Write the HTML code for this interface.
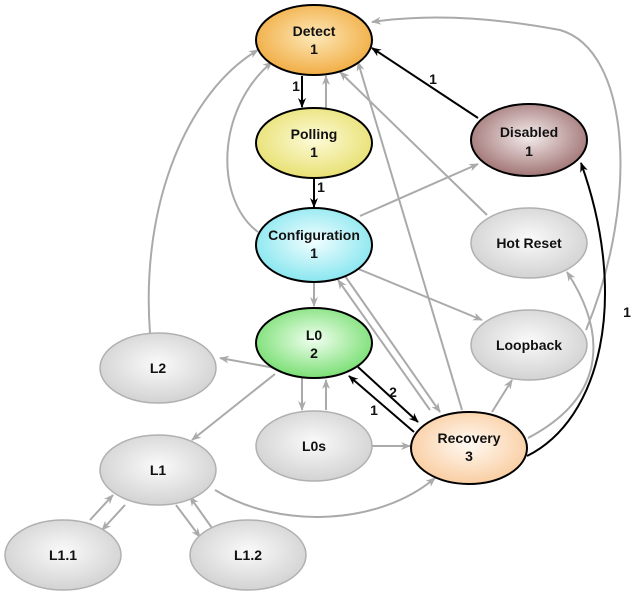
<!DOCTYPE html>
<html><head><meta charset="utf-8"><style>
html,body{margin:0;padding:0;background:#fff;width:640px;height:598px;overflow:hidden}
text{font-family:"Liberation Sans",sans-serif;font-weight:bold;font-size:14px;text-anchor:middle;fill:#111}
</style></head><body>
<svg width="640" height="598" viewBox="0 0 640 598" xmlns="http://www.w3.org/2000/svg">
<defs>
<radialGradient id="gO" cx="50%" cy="45%" r="60%"><stop offset="0" stop-color="#fde8b8"/><stop offset="1" stop-color="#f0a83a"/></radialGradient>
<radialGradient id="gY" cx="50%" cy="45%" r="60%"><stop offset="0" stop-color="#fdfbd8"/><stop offset="1" stop-color="#e6de6a"/></radialGradient>
<radialGradient id="gC" cx="50%" cy="45%" r="60%"><stop offset="0" stop-color="#f2feff"/><stop offset="1" stop-color="#7fe4ee"/></radialGradient>
<radialGradient id="gD" cx="50%" cy="45%" r="60%"><stop offset="0" stop-color="#f5eded"/><stop offset="1" stop-color="#9a6a6a"/></radialGradient>
<radialGradient id="gG" cx="50%" cy="45%" r="60%"><stop offset="0" stop-color="#f1fff0"/><stop offset="1" stop-color="#6fdc68"/></radialGradient>
<radialGradient id="gR" cx="50%" cy="45%" r="60%"><stop offset="0" stop-color="#fffaf3"/><stop offset="1" stop-color="#f9c99a"/></radialGradient>
<radialGradient id="gX" cx="50%" cy="45%" r="60%"><stop offset="0" stop-color="#fafafa"/><stop offset="1" stop-color="#cfcfcf"/></radialGradient>
<marker id="ag" markerWidth="10" markerHeight="8" refX="9" refY="4" orient="auto" markerUnits="userSpaceOnUse"><path d="M0,0 L10,4 L0,8 L3,4z" fill="#aaa"/></marker>
<marker id="ab" markerWidth="10" markerHeight="8" refX="9" refY="4" orient="auto" markerUnits="userSpaceOnUse"><path d="M0,0 L10,4 L0,8 L3,4z" fill="#000"/></marker>
</defs>
<g fill="none" stroke="#aaa" stroke-width="2" marker-end="url(#ag)">
<path d="M326,108 L326,76"/>
<path d="M258,232 C215,200 215,110 272,62"/>
<path d="M150,333 C140,200 190,90 258,50"/>
<path d="M314,282 L314,306"/>
<path d="M360,216 L478,164"/>
<path d="M356,268 L482,320"/>
<path d="M345,276 L440,412"/>
<path d="M430,410 L338,280"/>
<path d="M487,215 L340,72"/>
<path d="M462,410 L358,62"/>
<path d="M586,330 C640,200 630,50 560,30 C480,15 420,15 372,22"/>
<path d="M492,412 L512,380"/>
<path d="M528,438 C610,395 605,330 567,272"/>
<path d="M275,368 L220,358"/>
<path d="M275,374 L192,440"/>
<path d="M302,378 L302,410"/>
<path d="M326,410 L326,380"/>
<path d="M372,446 L410,446"/>
<path d="M215,490 C280,530 380,525 435,478"/>
<path d="M90,520 L113,495"/>
<path d="M125,505 L102,530"/>
<path d="M176,505 L200,537"/>
<path d="M212,528 L190,497"/>
</g>
<g fill="none" stroke="#000" stroke-width="2" marker-end="url(#ab)">
<path d="M302,76 L302,107"/>
<path d="M314,178 L314,207"/>
<path d="M478,118 L372,48"/>
<path d="M527,456 C600,420 630,300 581,163"/>
<path d="M358,367 L418,422"/>
<path d="M414,432 L349,376"/>
</g>
<text x="296" y="91">1</text>
<text x="321" y="192">1</text>
<text x="433" y="84">1</text>
<text x="627" y="317">1</text>
<text x="393" y="397">2</text>
<text x="374" y="415">1</text>
<g stroke="#000" stroke-width="2">
<ellipse cx="314" cy="40" rx="58" ry="35" fill="url(#gO)"/>
<ellipse cx="314" cy="143" rx="58" ry="35" fill="url(#gY)"/>
<ellipse cx="314" cy="245" rx="58" ry="37" fill="url(#gC)"/>
<ellipse cx="529" cy="140" rx="58" ry="36" fill="url(#gD)"/>
<ellipse cx="314" cy="343" rx="58" ry="35" fill="url(#gG)"/>
<ellipse cx="469" cy="448" rx="58" ry="36" fill="url(#gR)"/>
</g>
<g stroke="#b0b0b0" stroke-width="1.5" fill="url(#gX)">
<ellipse cx="529" cy="243" rx="58" ry="35"/>
<ellipse cx="529" cy="345" rx="58" ry="35"/>
<ellipse cx="158" cy="368" rx="58" ry="35"/>
<ellipse cx="158" cy="470" rx="58" ry="35"/>
<ellipse cx="314" cy="446" rx="58" ry="35"/>
<ellipse cx="63" cy="555" rx="58" ry="35"/>
<ellipse cx="248" cy="555" rx="58" ry="35"/>
</g>
<text x="314" y="36">Detect</text><text x="314" y="54">1</text>
<text x="314" y="139">Polling</text><text x="314" y="157">1</text>
<text x="314" y="240">Configuration</text><text x="314" y="258">1</text>
<text x="529" y="137">Disabled</text><text x="529" y="156">1</text>
<text x="314" y="340">L0</text><text x="314" y="358">2</text>
<text x="469" y="443">Recovery</text><text x="469" y="461">3</text>
<text x="529" y="248">Hot Reset</text>
<text x="529" y="350">Loopback</text>
<text x="158" y="373">L2</text>
<text x="158" y="475">L1</text>
<text x="314" y="451">L0s</text>
<text x="63" y="560">L1.1</text>
<text x="248" y="560">L1.2</text>
</svg>
</body></html>
